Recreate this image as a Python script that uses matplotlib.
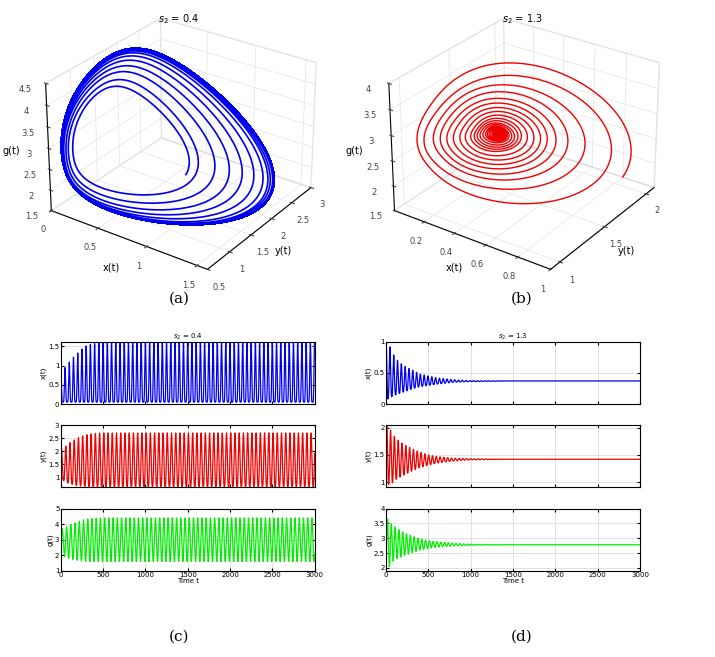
import numpy as np
import matplotlib
matplotlib.use("Agg")
import matplotlib.pyplot as plt
from matplotlib.ticker import FormatStrFormatter

# time grid and oscillation period (c),(d)
t = np.linspace(0, 3000, 30000)
period_c = 50.0
period_d = 45.0

# envelope readings, panel (c)  s2 = 0.4
tk_c = [25, 75, 125, 175, 225, 290, 350, 480, 3000]
x_hi_c = [0.88, 1.02, 1.16, 1.27, 1.38, 1.5, 1.55, 1.6, 1.6]
x_lo_c = [0.05, 0.05, 0.05, 0.05, 0.05, 0.05, 0.05, 0.05, 0.05]
y_hi_c = [2.1, 2.25, 2.37, 2.46, 2.55, 2.62, 2.66, 2.7, 2.7]
y_lo_c = [0.9, 0.8, 0.75, 0.7, 0.68, 0.66, 0.65, 0.65, 0.65]
g_hi_c = [3.7, 3.85, 4.0, 4.1, 4.2, 4.3, 4.35, 4.4, 4.4]
g_lo_c = [1.95, 1.85, 1.75, 1.7, 1.65, 1.62, 1.6, 1.6, 1.6]

# envelope readings, panel (d)  s2 = 1.3
tk_d = [20, 70, 120, 200, 300, 400, 500, 600, 800, 1000, 1500, 3000]
x_hi_d = [1.0, 0.83, 0.72, 0.62, 0.55, 0.48, 0.45, 0.42, 0.39, 0.375, 0.37, 0.37]
x_lo_d = [0.08, 0.12, 0.15, 0.19, 0.24, 0.28, 0.3, 0.32, 0.35, 0.36, 0.37, 0.37]
y_hi_d = [2.05, 1.9, 1.8, 1.7, 1.62, 1.55, 1.5, 1.47, 1.44, 1.43, 1.42, 1.42]
y_lo_d = [0.95, 0.98, 1.05, 1.12, 1.2, 1.27, 1.31, 1.35, 1.39, 1.41, 1.42, 1.42]
g_hi_d = [3.65, 3.45, 3.35, 3.2, 3.08, 2.98, 2.92, 2.88, 2.83, 2.8, 2.78, 2.78]
g_lo_d = [1.95, 2.2, 2.3, 2.4, 2.5, 2.6, 2.65, 2.7, 2.74, 2.76, 2.78, 2.78]


def wave(tk, hi, lo, period, phase, sharp):
    th = 2 * np.pi * t / period + phase
    w = ((1 + np.cos(th)) / 2) ** sharp
    h = np.interp(t, tk, hi)
    l = np.interp(t, tk, lo)
    return l + (h - l) * w


xc = wave(tk_c, x_hi_c, x_lo_c, period_c, 0.0, 3.0)
yc = wave(tk_c, y_hi_c, y_lo_c, period_c, -1.1, 1.5)
gc = wave(tk_c, g_hi_c, g_lo_c, period_c, -2.3, 1.0)
xd = wave(tk_d, x_hi_d, x_lo_d, period_d, 0.0, 1.5)
yd = wave(tk_d, y_hi_d, y_lo_d, period_d, -1.1, 1.2)
gd = wave(tk_d, g_hi_d, g_lo_d, period_d, -2.3, 1.0)

fig = plt.figure(figsize=(7.15, 6.57), dpi=100)
plt.rcParams['font.size'] = 6
fmt = FormatStrFormatter('%g')


def style3d(ax):
    for a in (ax.xaxis, ax.yaxis, ax.zaxis):
        a.pane.fill = False
        a.pane.set_edgecolor('#cccccc')
        a._axinfo['grid']['color'] = '#e4e4e4'
        a._axinfo['grid']['linewidth'] = 0.5
        a.set_major_formatter(fmt)
    ax.zaxis._axinfo['juggled'] = (1, 2, 0)
    ax.tick_params(labelsize=6, pad=0, colors='#444444')
    ax.view_init(elev=28, azim=-55)
    ax.set_box_aspect(None, zoom=1.0)


ax = fig.add_axes([0.0, 0.56, 0.5, 0.45], projection='3d')
ax.plot(xc, yc, gc, color='#0000ee', lw=1.2)
ax.set_xlim(0, 1.6); ax.set_ylim(0.5, 3); ax.set_zlim(1.5, 4.5)
ax.set_xticks([0, 0.5, 1, 1.5]); ax.set_yticks([0.5, 1, 1.5, 2, 2.5, 3])
ax.set_zticks([1.5, 2, 2.5, 3, 3.5, 4, 4.5])
ax.set_xlabel('x(t)', labelpad=-6, fontsize=7); ax.set_ylabel('y(t)', labelpad=-6, fontsize=7)
ax.set_zlabel('g(t)', labelpad=-6, fontsize=7)
ax.set_title('$s_2$ = 0.4', fontsize=7, y=0.95)
style3d(ax)

ax = fig.add_axes([0.48, 0.56, 0.5, 0.45], projection='3d')
ax.plot(xd, yd, gd, color='#ee0000', lw=1.0)
ax.set_xlim(0, 1); ax.set_ylim(0.9, 2.1); ax.set_zlim(1.5, 4)
ax.set_xticks([0.2, 0.4, 0.6, 0.8, 1]); ax.set_yticks([1, 1.5, 2])
ax.set_zticks([1.5, 2, 2.5, 3, 3.5, 4])
ax.set_xlabel('x(t)', labelpad=-6, fontsize=7); ax.set_ylabel('y(t)', labelpad=-6, fontsize=7)
ax.set_zlabel('g(t)', labelpad=-6, fontsize=7)
ax.set_title('$s_2$ = 1.3', fontsize=7, y=0.95)
style3d(ax)

fig.text(0.25, 0.54, '(a)', ha='center', fontsize=11, family='serif')
fig.text(0.73, 0.54, '(b)', ha='center', fontsize=11, family='serif')
fig.text(0.25, 0.025, '(c)', ha='center', fontsize=11, family='serif')
fig.text(0.73, 0.025, '(d)', ha='center', fontsize=11, family='serif')

rows = [0.385, 0.258, 0.131]
h = 0.095
for col, (left, series, ylims, yticks, title) in enumerate([
        (0.085, (xc, yc, gc), [(0, 1.62), (0.62, 3), (1, 5)],
         [[0, 0.5, 1, 1.5], [1, 1.5, 2, 2.5, 3], [1, 2, 3, 4, 5]], '$s_2$ = 0.4'),
        (0.54, (xd, yd, gd), [(0, 1), (0.9, 2.05), (1.9, 4)],
         [[0, 0.5, 1], [1, 1.5, 2], [2, 2.5, 3, 3.5, 4]], '$s_2$ = 1.3')]):
    for i, (s, c, lab) in enumerate(zip(series, ['#0000ee', '#ee0000', '#00ee00'],
                                        ['x(t)', 'y(t)', 'g(t)'])):
        a = fig.add_axes([left, rows[i], 0.355, h])
        a.plot(t, s, color=c, lw=0.9)
        a.set_xlim(0, 3000); a.set_ylim(*ylims[i]); a.set_yticks(yticks[i])
        a.set_xticks(range(0, 3001, 500))
        a.yaxis.set_major_formatter(fmt)
        a.grid(True, color='#dddddd', lw=0.6)
        a.set_ylabel(lab, fontsize=5, labelpad=1)
        a.tick_params(labelsize=5, length=2, pad=1, direction='in', top=True, right=True)
        if i < 2:
            a.set_xticklabels([])
        else:
            a.set_xlabel('Time t', fontsize=5, labelpad=0)
        if i == 0:
            a.set_title(title, fontsize=5, pad=2)

fig.savefig('out.png', dpi=100)
